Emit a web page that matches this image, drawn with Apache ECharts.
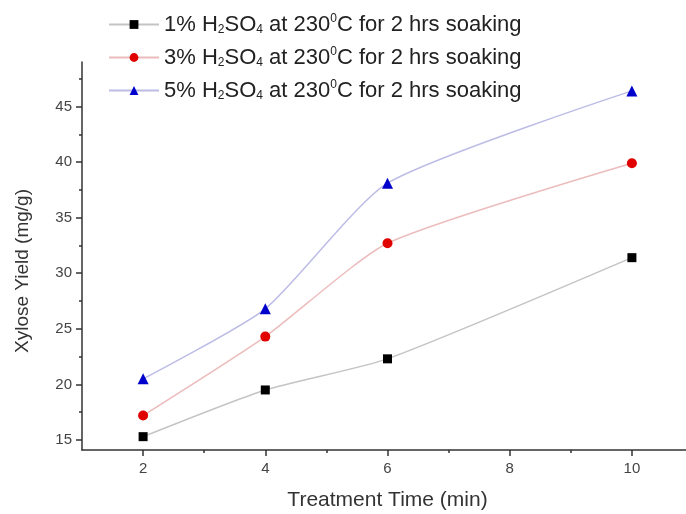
<!DOCTYPE html>
<html>
<head>
<meta charset="utf-8">
<script src="https://cdn.jsdelivr.net/npm/echarts@6/dist/echarts.min.js"></script>
<style>
  html, body { margin: 0; padding: 0; background: #fff; }
  #chart { width: 686px; height: 514px; }
</style>
</head>
<body>
<div id="chart"></div>
<script>
// treatment time (min)
const times = [2, 4, 6, 10];
const acid1 = [15.3, 19.5, 22.3, 31.4];
const acid3 = [17.2, 24.3, 32.7, 39.9];
const acid5 = [20.5, 26.8, 38.1, 46.4];

const seriesNames = ['1%', '3%', '5%'];
const xLabels = [2, 4, 6, 8, 10];
const xMinor = [3, 5, 7, 9];
const yLabels = [15, 20, 25, 30, 35, 40, 45];
const yMinor = [17.5, 22.5, 27.5, 32.5, 37.5, 42.5, 47.5];

const chart = echarts.init(document.getElementById('chart'));

const pairs = (ys) => times.map((t, i) => [t, ys[i]]);
const font = 'Liberation Sans, Arial, sans-serif';

const axisLine = { show: true, lineStyle: { color: '#333', width: 1.5 } };

const option = {
  animation: false,
  grid: { left: 82, top: 62, width: 611, height: 388, outerBoundsMode: 'none' },
  legend: {
    orient: 'vertical',
    left: 108,
    top: 13,
    padding: 0,
    itemWidth: 50,
    itemHeight: 11,
    itemGap: 10,
    data: seriesNames,
    formatter: (name) => name + ' H{sub|2}SO{sub|4} at 230{sup|0}C for 2 hrs soaking',
    textStyle: {
      fontFamily: font,
      fontSize: 22,
      color: '#222',
      rich: {
        sub: { fontSize: 12, fontFamily: font, color: '#222', verticalAlign: 'bottom', padding: [11, 0, 0, 0] },
        sup: { fontSize: 12, fontFamily: font, color: '#222', verticalAlign: 'top', padding: [0, 0, 11, 0] }
      }
    }
  },
  xAxis: [{
    type: 'value',
    min: 1,
    max: 11,
    name: 'Treatment Time (min)',
    nameLocation: 'middle',
    nameGap: 40,
    nameTextStyle: { fontFamily: font, fontSize: 21, color: '#333' },
    axisLine: axisLine,
    axisTick: { show: true, customValues: xLabels, length: 6, lineStyle: { color: '#333', width: 1.5 } },
    axisLabel: { customValues: xLabels, fontFamily: font, fontSize: 15, color: '#444', margin: 11 },
    splitLine: { show: false }
  }, {
    type: 'value',
    min: 1,
    max: 11,
    position: 'bottom',
    axisLine: { show: false },
    axisTick: { show: true, customValues: xMinor, length: 3, lineStyle: { color: '#333', width: 1.5 } },
    axisLabel: { show: false },
    splitLine: { show: false }
  }],
  yAxis: [{
    type: 'value',
    min: 14.1,
    max: 49,
    name: 'Xylose Yield (mg/g)',
    nameLocation: 'middle',
    nameGap: 50,
    nameTextStyle: { fontFamily: font, fontSize: 19, color: '#333', padding: [0, 30, 0, 0] },
    axisLine: axisLine,
    axisTick: { show: true, customValues: yLabels, length: 6, lineStyle: { color: '#333', width: 1.5 } },
    axisLabel: { customValues: yLabels, fontFamily: font, fontSize: 15, color: '#444', margin: 10 },
    splitLine: { show: false }
  }, {
    type: 'value',
    min: 14.1,
    max: 49,
    position: 'left',
    axisLine: { show: false },
    axisTick: { show: true, customValues: yMinor, length: 3, lineStyle: { color: '#333', width: 1.5 } },
    axisLabel: { show: false },
    splitLine: { show: false }
  }],
  series: [
    {
      name: seriesNames[0],
      type: 'line',
      data: pairs(acid1),
      smooth: 0.2,
      symbol: 'rect',
      symbolSize: 9,
      itemStyle: { color: '#000' },
      lineStyle: { color: '#c4c4c4', width: 1.5 }
    },
    {
      name: seriesNames[1],
      type: 'line',
      data: pairs(acid3),
      smooth: 0.2,
      symbol: 'circle',
      symbolSize: 10,
      itemStyle: { color: '#e00000' },
      lineStyle: { color: '#ecbcbc', width: 1.5 }
    },
    {
      name: seriesNames[2],
      type: 'line',
      data: pairs(acid5),
      smooth: 0.2,
      symbol: 'triangle',
      symbolSize: 11,
      itemStyle: { color: '#0000cc' },
      lineStyle: { color: '#bcbce6', width: 1.5 }
    }
  ]
};

chart.setOption(option);
</script>
</body>
</html>
